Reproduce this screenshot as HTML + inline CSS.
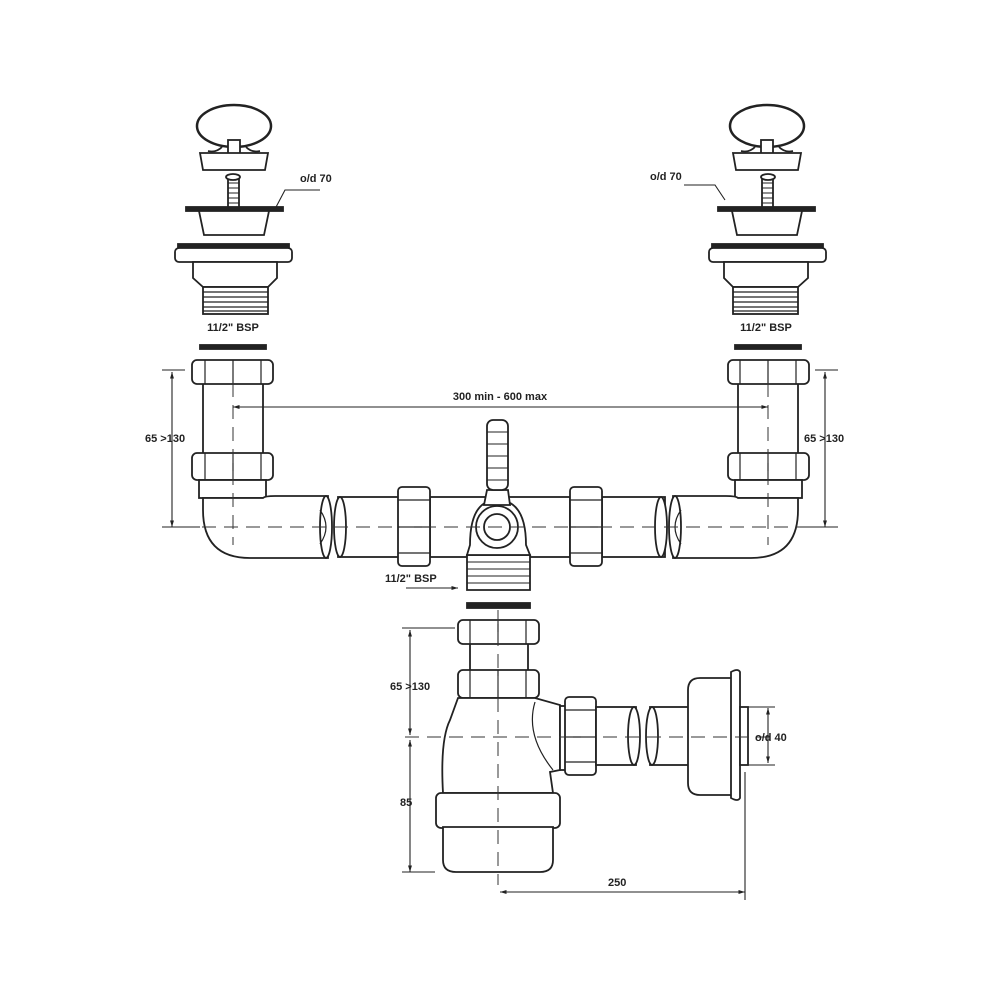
<!DOCTYPE html>
<html><head><meta charset="utf-8"><style>
body{margin:0;background:#fff}
svg{display:block}
text{font-family:"Liberation Sans",sans-serif;font-size:11px;font-weight:bold;fill:#222}
</style></head><body>
<svg width="1000" height="1000" viewBox="0 0 1000 1000" xmlns="http://www.w3.org/2000/svg">
<defs>
<marker id="a" viewBox="0 0 10 10" refX="10" refY="5" markerWidth="6" markerHeight="6" orient="auto-start-reverse"><path d="M0,2 L10,5 L0,8z" fill="#222"/></marker>
<g id="waste" fill="#fff" stroke="#222" stroke-width="1.8">
  <!-- ring -->
  <ellipse cx="234" cy="126" rx="37" ry="21" fill="none" stroke-width="2.5"/>
  <path d="M222,147 q-6,6 -14,4 M246,147 q6,6 14,4" fill="none"/>
  <rect x="228" y="140" width="12" height="14"/>
  <path d="M200,153 L268,153 L265,170 L203,170Z"/>
  <!-- screw -->
  <rect x="228" y="178" width="11" height="30"/>
  <path d="M228,183h11M228,188h11M228,193h11M228,198h11M228,203h11" stroke-width="1"/>
  <ellipse cx="233" cy="177" rx="7" ry="3"/>
  <!-- strainer -->
  <rect x="186" y="207" width="97" height="4" fill="#222"/>
  <path d="M199,211 L269,211 L264,235 L204,235Z"/>
  <!-- body -->
  <rect x="178" y="244" width="111" height="4" fill="#222"/>
  <rect x="175" y="248" width="117" height="14" rx="4"/>
  <path d="M193,262 L277,262 L277,278 L268,287 L203,287 L193,278Z"/>
  <rect x="203" y="287" width="65" height="27"/>
  <path d="M203,292h65M203,297h65M203,302h65M203,307h65M203,311h65" stroke-width="1.2"/>
  <rect x="200" y="345" width="66" height="4" fill="#222"/>
  <!-- pipe & nuts -->
  <rect x="203" y="383" width="60" height="72"/>
  <rect x="192" y="360" width="81" height="24" rx="5"/>
  <path d="M205,360v24M233,360v24M261,360v24" stroke-width="1.2"/>
  <rect x="192" y="453" width="81" height="27" rx="5"/>
  <path d="M205,453v27M233,453v27M261,453v27" stroke-width="1.2"/>
  <rect x="199" y="480" width="67" height="18"/>
  <!-- elbow -->
  <path d="M203,498 L203,510 Q203,558 250,558 L328,558 L328,496 L275,496 Q265,496 263,498 Z"/>
  <ellipse cx="326" cy="527" rx="6" ry="31"/>
  <path d="M320,510 q12,17 0,34" fill="none" stroke-width="1.2"/>
</g>
</defs>

<use href="#waste"/>
<g transform="translate(1001,0) scale(-1,1)"><use href="#waste"/></g>

<g fill="#fff" stroke="#222" stroke-width="1.8">
  <!-- middle pipes -->
  <rect x="338" y="497" width="62" height="60"/>
  <ellipse cx="340" cy="527" rx="6" ry="30"/>
  <rect x="430" y="497" width="140" height="60"/>
  <rect x="602" y="497" width="63" height="60"/>
  <ellipse cx="661" cy="527" rx="6" ry="30"/>
  <rect x="398" y="487" width="32" height="79" rx="4"/>
  <path d="M398,500h32M398,527h32M398,553h32" stroke-width="1.2"/>
  <rect x="570" y="487" width="32" height="79" rx="4"/>
  <path d="M570,500h32M570,527h32M570,553h32" stroke-width="1.2"/>
  <!-- tee -->
  <path d="M467,555 L530,555 L530,590 L467,590Z"/>
  <path d="M467,562h63M467,569h63M467,576h63M467,583h63" stroke-width="1.1"/>
  <path d="M470,545 Q470,500 497,500 Q526,500 526,545 L530,555 L467,555Z"/>
  <circle cx="497" cy="527" r="21"/>
  <circle cx="497" cy="527" r="13"/>
  <path d="M484,505 L510,505 L508,490 L487,490Z"/>
  <rect x="487" y="420" width="21" height="70" rx="6"/>
  <path d="M487,432h21M487,444h21M487,456h21M487,468h21M487,480h21" stroke-width="1.1"/>
  <rect x="467" y="603" width="63" height="5" fill="#222"/>
  <!-- trap -->
  <rect x="470" y="643" width="58" height="28"/>
  <rect x="458" y="620" width="81" height="24" rx="5"/>
  <path d="M470,620v24M498,620v24M526,620v24" stroke-width="1.2"/>
  <rect x="458" y="670" width="81" height="28" rx="5"/>
  <path d="M470,670v28M498,670v28M526,670v28" stroke-width="1.2"/>
  <path d="M458,698 L535,698 L560,705 L560,770 L550,772 L553,793 L443,793 Q440,740 450,720 Z"/>
  <path d="M535,702 Q525,735 553,770" fill="none" stroke-width="1.2"/>
  <rect x="560" y="706" width="6" height="64"/>
  <rect x="565" y="697" width="31" height="78" rx="4"/>
  <path d="M565,710h31M565,737h31M565,762h31" stroke-width="1.2"/>
  <rect x="596" y="707" width="40" height="58"/>
  <ellipse cx="634" cy="736" rx="6" ry="29"/>
  <rect x="650" y="707" width="40" height="58"/>
  <ellipse cx="652" cy="736" rx="6" ry="29"/>
  <path d="M688,690 Q688,678 700,678 L732,678 L732,795 L700,795 Q688,795 688,783 Z"/>
  <path d="M731,672 Q738,668 740,672 L740,798 Q738,802 731,798 Z"/>
  <rect x="740" y="707" width="8" height="58"/>
  <rect x="436" y="793" width="124" height="35" rx="5"/>
  <path d="M443,827 L553,827 L553,860 Q553,872 540,872 L456,872 Q443,872 443,860 Z"/>
</g>

<!-- center lines -->
<g stroke="#333" stroke-width="1" stroke-dasharray="14,8" fill="none">
  <path d="M233,383 V545"/><path d="M768,383 V545"/>
  <path d="M180,527 H820"/>
  <path d="M498,610 V885"/>
  <path d="M405,737 H770"/>
</g>

<!-- dimensions -->
<g stroke="#222" stroke-width="1.1" fill="none">
  <path d="M233,407 H768" marker-start="url(#a)" marker-end="url(#a)"/>
  <path d="M172,372 V527" marker-start="url(#a)" marker-end="url(#a)"/>
  <path d="M162,370 H185 M162,527 H200"/>
  <path d="M825,372 V527" marker-start="url(#a)" marker-end="url(#a)"/>
  <path d="M815,370 H838 M800,527 H838"/>
  <path d="M410,630 V735" marker-start="url(#a)" marker-end="url(#a)"/>
  <path d="M410,740 V872" marker-start="url(#a)" marker-end="url(#a)"/>
  <path d="M402,628 H455 M402,872 H435"/>
  <path d="M500,892 H745" marker-start="url(#a)" marker-end="url(#a)"/>
  <path d="M745,772 V900"/>
  <path d="M768,708 V763" marker-start="url(#a)" marker-end="url(#a)"/>
  <path d="M748,707 H775 M748,765 H775"/>
  <path d="M406,588 H458" marker-end="url(#a)"/>
  <path d="M275,209 L285,190 L320,190"/>
  <path d="M725,200 L715,185 L684,185"/>
</g>

<g>
  <text x="300" y="182">o/d 70</text>
  <text x="650" y="180">o/d 70</text>
  <text x="233" y="331" text-anchor="middle">11/2" BSP</text>
  <text x="766" y="331" text-anchor="middle">11/2" BSP</text>
  <text x="500" y="400" text-anchor="middle">300 min - 600 max</text>
  <text x="145" y="442">65 &gt;130</text>
  <text x="804" y="442">65 &gt;130</text>
  <text x="385" y="582">11/2" BSP</text>
  <text x="390" y="690">65 &gt;130</text>
  <text x="400" y="806">85</text>
  <text x="608" y="886">250</text>
  <text x="755" y="741">o/d 40</text>
</g>
</svg>
</body></html>
